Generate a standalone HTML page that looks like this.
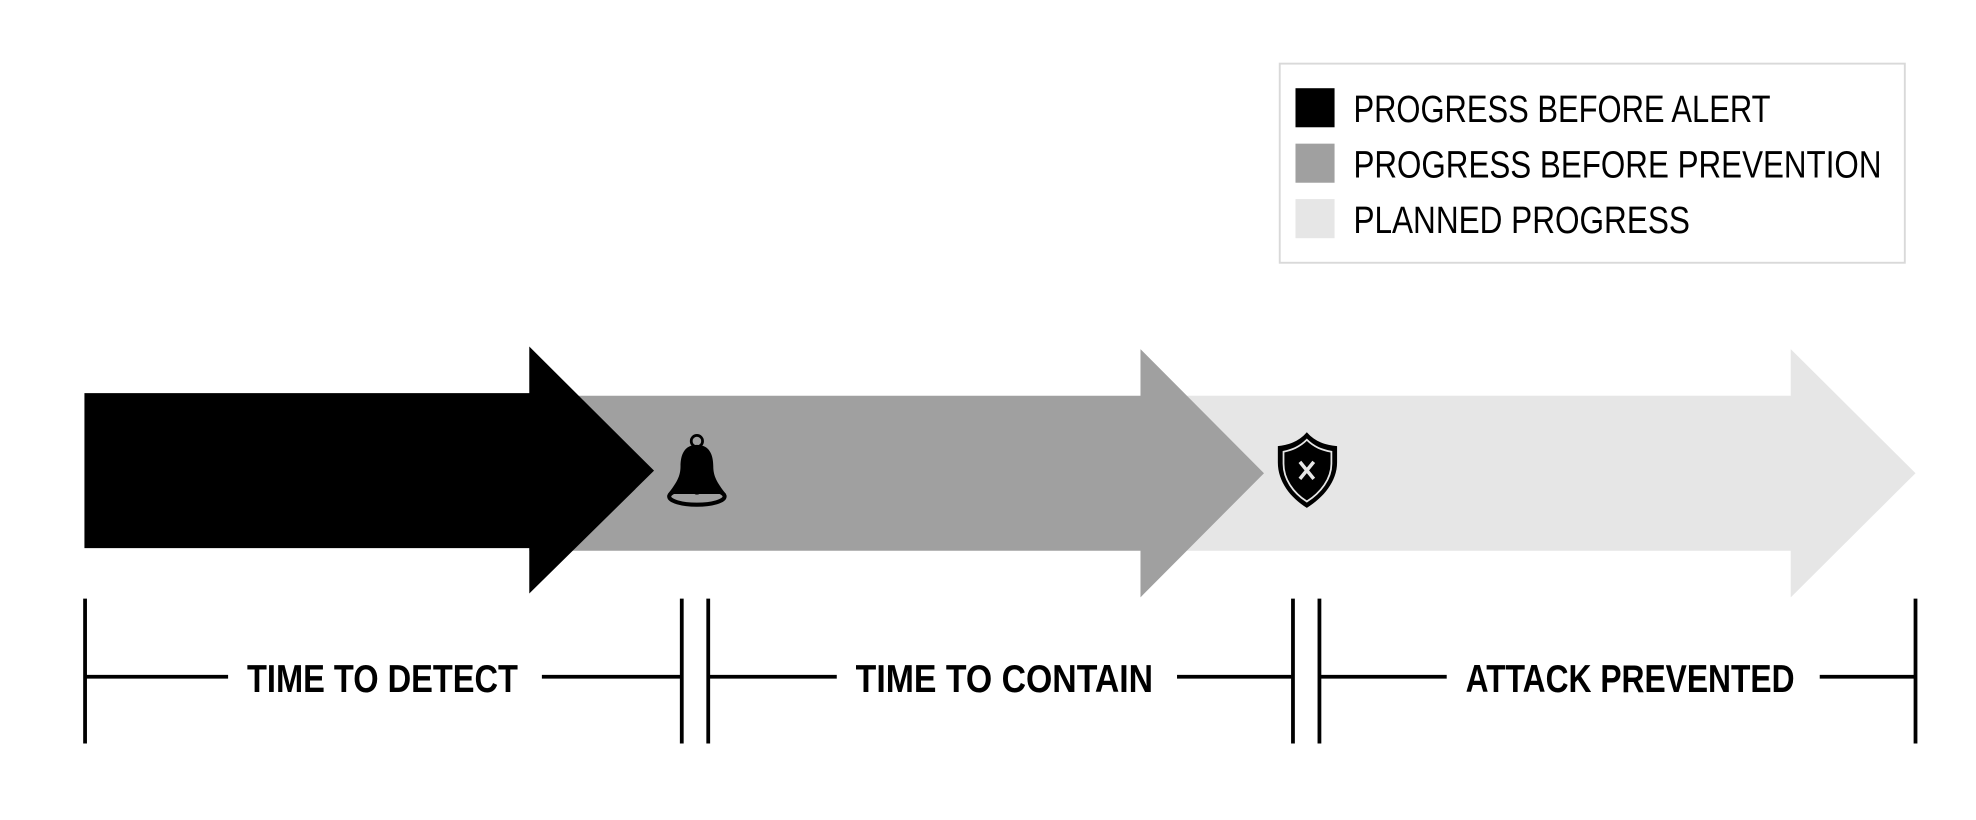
<!DOCTYPE html>
<html><head><meta charset="utf-8"><style>
html,body{margin:0;padding:0;background:#fff;}
svg{display:block;}
text{font-family:"Liberation Sans",sans-serif;}
</style></head><body>
<svg width="1976" height="820" viewBox="0 0 1568 650.7" preserveAspectRatio="none" xmlns="http://www.w3.org/2000/svg">
<rect x="0" y="0" width="1568" height="651" fill="#fff"/>
<rect x="1015.5" y="50.5" width="496" height="158" fill="#fff" stroke="#d9d9d9" stroke-width="1.5"/>
<rect x="1028" y="70" width="31" height="31" fill="#000"/>
<rect x="1028" y="114" width="31" height="31" fill="#a0a0a0"/>
<rect x="1028" y="158" width="31" height="31" fill="#e6e6e6"/>
<text x="1074" y="97" font-size="30" textLength="331" lengthAdjust="spacingAndGlyphs">PROGRESS BEFORE ALERT</text>
<text x="1074" y="141" font-size="30" textLength="419" lengthAdjust="spacingAndGlyphs">PROGRESS BEFORE PREVENTION</text>
<text x="1074" y="185" font-size="30" textLength="267" lengthAdjust="spacingAndGlyphs">PLANNED PROGRESS</text>
<polygon points="905,314 1421,314 1421,277 1520,375.5 1421,474 1421,437 905,437" fill="#e6e6e6"/>
<polygon points="420,314 905,314 905,277 1003,375.5 905,474 905,437 420,437" fill="#a0a0a0"/>
<polygon points="67,312 420,312 420,275 519,373.5 420,471 420,435 67,435" fill="#000"/>
<g fill="#000">
<circle cx="553" cy="350" r="4.5" fill="none" stroke="#000" stroke-width="2.2"/>
<path d="M553,353 C543,353 540,361 540,370 C540,378 537,383 530,392 L576,392 C569,383 566,378 566,370 C566,361 563,353 553,353 Z"/>
<ellipse cx="553" cy="394" rx="22" ry="6.5" fill="none" stroke="#000" stroke-width="3.2"/>
<rect x="551" y="384" width="4" height="6"/>
<circle cx="553" cy="389" r="3.5"/>
</g>
<g>
<path d="M1037,343 C1030,351 1022,353 1014,354 L1014,367 C1014,382 1024,395 1037,403 C1050,395 1061,382 1061,367 L1061,354 C1052,353 1044,351 1037,343 Z" fill="#000"/>
<path d="M1037,349 C1031,355 1025,357 1018.5,358.5 L1018.5,368 C1018.5,380 1026,391 1037,398 C1048,391 1056.5,380 1056.5,368 L1056.5,358.5 C1049,357 1043,355 1037,349 Z" fill="none" stroke="#e6e6e6" stroke-width="1.4"/>
<path d="M1031.5,366.5 L1042.5,380 M1042.5,366.5 L1031.5,380" stroke="#e6e6e6" stroke-width="2.8"/>
</g>
<g stroke="#000" stroke-width="3" fill="none">
<line x1="67.5" y1="475" x2="67.5" y2="590"/>
<line x1="541" y1="475" x2="541" y2="590"/>
<line x1="562" y1="475" x2="562" y2="590"/>
<line x1="1026" y1="475" x2="1026" y2="590"/>
<line x1="1047" y1="475" x2="1047" y2="590"/>
<line x1="1520" y1="475" x2="1520" y2="590"/>
<line x1="67" y1="537" x2="181" y2="537"/>
<line x1="430" y1="537" x2="541" y2="537"/>
<line x1="562" y1="537" x2="664" y2="537"/>
<line x1="934" y1="537" x2="1026" y2="537"/>
<line x1="1047" y1="537" x2="1148" y2="537"/>
<line x1="1444" y1="537" x2="1520" y2="537"/>
</g>
<g font-weight="bold" font-size="31">
<text x="196" y="549" textLength="215" lengthAdjust="spacingAndGlyphs">TIME TO DETECT</text>
<text x="679" y="549" textLength="236" lengthAdjust="spacingAndGlyphs">TIME TO CONTAIN</text>
<text x="1163" y="549" textLength="261" lengthAdjust="spacingAndGlyphs">ATTACK PREVENTED</text>
</g>
</svg>
</body></html>
